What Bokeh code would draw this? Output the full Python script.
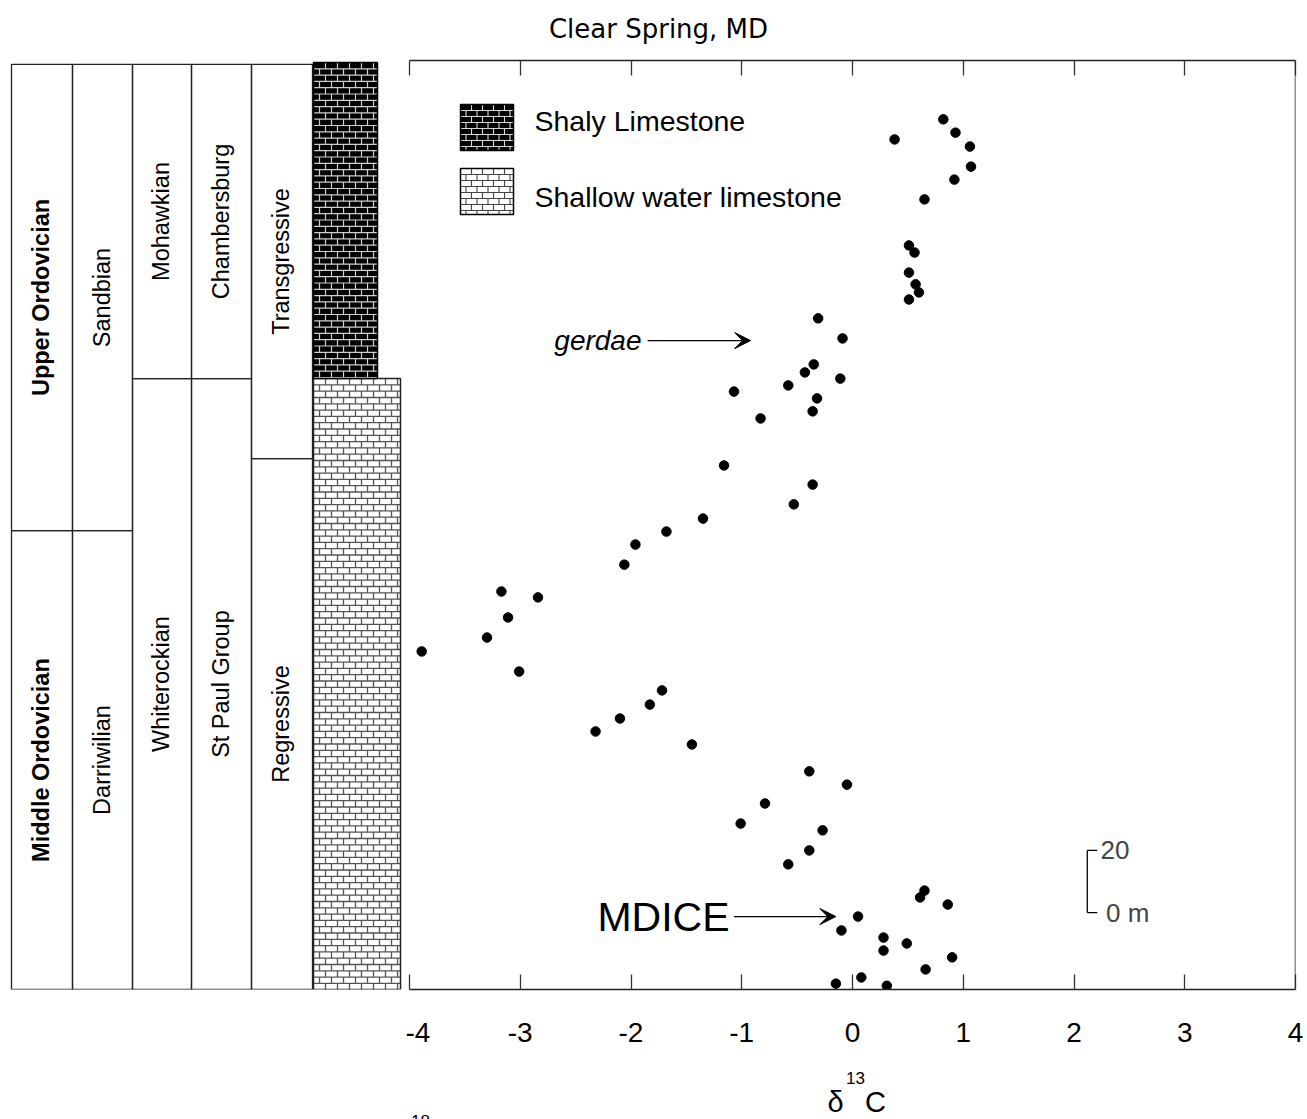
import numpy as np
from bokeh.plotting import figure
from bokeh.layouts import row, column
from bokeh.models import Range1d, FixedTicker, LinearAxis, Span, Label, Arrow, VeeHead
from bokeh.core.properties import value
from bokeh.embed import file_html
from bokeh.resources import INLINE

# ---------------- data ----------------
d13c = [0.82, 0.93, 1.06, 1.07, 0.92, 0.38, 0.65, 0.51, 0.56, 0.51, 0.57, 0.60, 0.51,
        -0.31, -0.09, -0.35, -0.43, -0.58, -0.11, -1.07, -0.32, -0.36, -0.83, -1.16,
        -0.36, -0.53, -1.35, -1.68, -1.96, -2.06, -3.17, -2.84, -3.11, -3.30, -3.89,
        -3.01, -1.72, -1.83, -2.10, -2.32, -1.45, -0.39, -0.05, -0.79, -1.01, -0.27,
        -0.39, -0.58, 0.65, 0.61, 0.86, 0.05, -0.10, 0.28, 0.28, 0.49, 0.90, 0.66,
        0.08, -0.15, 0.31]
height_m = [281.6, 277.3, 272.8, 266.3, 262.1, 275.1, 255.7, 240.8, 238.5, 232.0, 228.2,
            225.6, 223.3, 217.2, 210.7, 202.3, 199.7, 195.5, 197.7, 193.5, 191.3, 187.1,
            184.8, 169.6, 163.4, 157.0, 152.4, 148.2, 144.0, 137.5, 128.8, 126.9, 120.4,
            113.9, 109.4, 102.9, 96.8, 92.2, 87.7, 83.5, 79.3, 70.6, 66.3, 60.2, 53.7,
            51.5, 45.0, 40.5, 32.0, 29.8, 27.5, 23.6, 19.1, 16.8, 12.6, 14.9, 10.4, 6.5,
            3.9, 1.9, 1.2]

x_ticks = [-4, -3, -2, -1, 0, 1, 2, 3, 4]
x_tick_labels = {t: str(t) for t in x_ticks}

# stratigraphic table: (upper label, lower label) per column, boundary height (m)
col_upper = ["Upper Ordovician", "Sandbian", "Mohawkian", "Chambersburg", "Transgressive"]
col_lower = ["Middle Ordovician", "Darriwilian", "Whiterockian", "St Paul Group", "Regressive"]
col_break = [148.5, 148.5, 197.7, 197.7, 171.8]
section_top = 299.4

lith_names = ["Shaly Limestone", "Shallow water limestone"]
lith_break = 197.7

title_text = "Clear Spring, MD"
xlabel_parts = ["δ", "13", "C"]
cut_label = "18"
events = ["gerdae", "MDICE"]
event_height = [210.0, 23.6]

scale_bar = [24.9, 45.0]   # 0 m and 20 m marks

# ---------------- layout constants ----------------
W = 1307
PX_M = 3.09
HEAD_H, TAIL_H = 48, 60          # strips above / below the plots
TOP, BOTTOM = 12, 70             # borders of the plots
FRAME_H = 929
MAIN_H = TOP + FRAME_H + BOTTOM
y_range = Range1d(0, FRAME_H / PX_M)

col_edges = [11, 72, 132, 191, 251, 312]
lith_x0, shaly_x1, lime_x1 = 313, 377, 400
FONT_NAME = "Liberation Sans"
FONT = value(FONT_NAME)


def brick_segments(x0, x1, y0, y1, row_h, brick_w):
    xa, ya, xb, yb = [], [], [], []
    n = int(np.ceil((y1 - y0) / row_h - 1e-9))
    for i in range(n):
        top = y1 - i * row_h
        bot = max(y1 - (i + 1) * row_h, y0)
        if bot > y0 + 1e-9:
            xa.append(x0); xb.append(x1); ya.append(bot); yb.append(bot)
        off = brick_w / 2 if i % 2 else brick_w
        xv = x0 + off
        while xv < x1 - 1e-9:
            xa.append(xv); xb.append(xv); ya.append(bot); yb.append(top)
            xv += brick_w
    return xa, ya, xb, yb


def blank(width, height, xr, yr, **kw):
    f = figure(width=width, height=height, x_range=xr, y_range=yr,
               output_backend="svg", toolbar_location=None,
               x_axis_location=None, y_axis_location=None,
               outline_line_color=None, **kw)
    f.grid.visible = False
    return f


# ---------------- head strip: title ----------------
p0 = blank(W, HEAD_H, Range1d(0, W), Range1d(0, HEAD_H),
           min_border_left=0, min_border_right=0, min_border_top=0, min_border_bottom=0)
p0.text(x=[658], y=[HEAD_H - 28], text=[title_text], text_align="center",
        text_baseline="middle", text_font=value("DejaVu Sans"), text_font_size="26px",
        text_color="black")

# ---------------- left: stratigraphic column ----------------
p1 = blank(405, MAIN_H, Range1d(0, 405), y_range,
           min_border_left=0, min_border_right=0,
           min_border_top=TOP, min_border_bottom=BOTTOM)

lefts = col_edges[:-1]
rights = col_edges[1:]
p1.quad(left=lefts + lefts, right=rights + rights,
        bottom=col_break + [0] * 5, top=[section_top] * 5 + col_break,
        fill_color=None, line_color="#222222", line_width=1.3)

centers = [(a + b) / 2 - 1 for a, b in zip(lefts, rights)]
mid_up = [(b + section_top) / 2 for b in col_break]
mid_lo = [b / 2 for b in col_break]
p1.text(x=centers[:1] * 2, y=[mid_up[0], mid_lo[0]], text=[col_upper[0], col_lower[0]],
        angle=np.pi / 2, text_align="center", text_baseline="middle",
        text_font=FONT, text_font_size="23.5px", text_font_style="bold", text_color="black")
p1.text(x=centers[1:] * 2, y=mid_up[1:] + mid_lo[1:], text=col_upper[1:] + col_lower[1:],
        angle=np.pi / 2, text_align="center", text_baseline="middle",
        text_font=FONT, text_font_size="23.5px", text_color="black")

# lithology
row_h = 6.3 / PX_M
p1.quad(left=[lith_x0], right=[lime_x1], bottom=[0], top=[lith_break],
        fill_color="white", line_color=None)
xa, ya, xb, yb = brick_segments(lith_x0, lime_x1, 0, lith_break, row_h, 12)
p1.segment(x0=xa, y0=ya, x1=xb, y1=yb, line_color="#555555", line_width=1.3)
p1.quad(left=[lith_x0], right=[lime_x1], bottom=[0], top=[lith_break],
        fill_color=None, line_color="#222222", line_width=1.5)

p1.quad(left=[lith_x0], right=[shaly_x1], bottom=[lith_break], top=[300.0],
        fill_color="black", line_color=None)
xa, ya, xb, yb = brick_segments(lith_x0, shaly_x1, lith_break, 300.0, row_h, 12)
p1.segment(x0=xa, y0=ya, x1=xb, y1=yb, line_color="#cfcfcf", line_width=1.2)
p1.quad(left=[lith_x0], right=[shaly_x1], bottom=[lith_break], top=[300.0],
        fill_color=None, line_color="black", line_width=1.5)

# ---------------- right: d13C plot ----------------
p2 = figure(width=W - 405, height=MAIN_H, x_range=Range1d(-4, 4), y_range=y_range,
            output_backend="svg", toolbar_location=None,
            x_axis_location="below", y_axis_location=None,
            min_border_left=4, min_border_right=12,
            min_border_top=TOP, min_border_bottom=BOTTOM,
            outline_line_color=None)
p2.grid.visible = False

ax = p2.xaxis[0]
ax.ticker = FixedTicker(ticks=x_ticks)
ax.major_label_overrides = x_tick_labels
ax.major_tick_in = 15
ax.major_tick_out = 0
ax.minor_tick_line_color = None
ax.axis_line_width = 1.5
ax.axis_line_color = "#222222"
ax.major_tick_line_width = 1.3
ax.major_tick_line_color = "#333333"
ax.major_label_standoff = 33
ax.major_label_text_font = FONT_NAME
ax.major_label_text_font_size = "28px"
ax.major_label_text_color = "black"

top_ax = LinearAxis(ticker=FixedTicker(ticks=x_ticks), major_tick_in=15, major_tick_out=0,
                    minor_tick_line_color=None, axis_line_width=1.5,
                    axis_line_color="#222222", major_tick_line_width=1.3,
                    major_tick_line_color="#333333", major_label_standoff=0,
                    major_label_text_alpha=0, major_label_text_font_size="4px")
p2.add_layout(top_ax, "above")
p2.add_layout(Span(location=4, dimension="height", line_color="#222222", line_width=1.5))

p2.scatter(x=d13c, y=height_m, size=9.5, fill_color="black", line_color="black")

# legend boxes
px_x = 1 / 110.75
lg_x0, lg_x1 = -4 + 51 * px_x, -4 + 104 * px_x
box_tops = [(989 - 104) / PX_M, (989 - 168) / PX_M]
box_h = 46 / PX_M
legend_text_y = [(989 - 120) / PX_M, (989 - 196) / PX_M]
# shaly
b0, b1 = box_tops[0] - box_h, box_tops[0]
p2.quad(left=[lg_x0], right=[lg_x1], bottom=[b0], top=[b1], fill_color="black", line_color=None)
xa, ya, xb, yb = brick_segments(lg_x0, lg_x1, b0, b1, 6.0 / PX_M, 11 * px_x)
p2.segment(x0=xa, y0=ya, x1=xb, y1=yb, line_color="#d8d8d8", line_width=1.1)
p2.quad(left=[lg_x0], right=[lg_x1], bottom=[b0], top=[b1], fill_color=None,
        line_color="black", line_width=1.5)
# shallow water
b0, b1 = box_tops[1] - box_h, box_tops[1]
p2.quad(left=[lg_x0], right=[lg_x1], bottom=[b0], top=[b1], fill_color="white", line_color=None)
xa, ya, xb, yb = brick_segments(lg_x0, lg_x1, b0, b1, 6.0 / PX_M, 11 * px_x)
p2.segment(x0=xa, y0=ya, x1=xb, y1=yb, line_color="#444444", line_width=1.1)
p2.quad(left=[lg_x0], right=[lg_x1], bottom=[b0], top=[b1], fill_color=None,
        line_color="black", line_width=1.5)

for name, ty in zip(lith_names, legend_text_y):
    p2.add_layout(Label(x=-4 + 125 * px_x, y=ty, text=name,
                        text_font=FONT_NAME, text_font_size="28.5px", text_color="black",
                        text_align="left", text_baseline="middle"))

# event arrows
ev_text_right = [-4 + 232 * px_x, -4 + 320 * px_x]
ev_arrow = [(-1.85, -0.92), (-1.07, -0.15)]
ev_style = [("italic", "28px"), ("normal", "41px")]
for name, yv, xr, (xs, xe), (sty, fs) in zip(events, event_height, ev_text_right, ev_arrow, ev_style):
    p2.add_layout(Label(x=xr, y=yv, text=name, text_font=FONT_NAME, text_font_size=fs,
                        text_font_style=sty, text_color="black",
                        text_align="right", text_baseline="middle"))
    p2.add_layout(Arrow(x_start=xs, y_start=yv, x_end=xe, y_end=yv, line_width=1.3,
                        line_color="black",
                        end=VeeHead(size=16, fill_color="black", line_color="black")))

# scale bar
sb_x = 2.12
p2.segment(x0=[sb_x, sb_x, sb_x], y0=[scale_bar[0], scale_bar[0], scale_bar[1]],
           x1=[sb_x, sb_x + 0.09, sb_x + 0.09], y1=[scale_bar[1], scale_bar[0], scale_bar[1]],
           line_color="black", line_width=1.3)
p2.add_layout(Label(x=sb_x + 0.12, y=scale_bar[1], text="20", text_font=FONT_NAME,
                    text_font_size="26px", text_align="left", text_baseline="middle"))
p2.add_layout(Label(x=sb_x + 0.17, y=scale_bar[0], text="0 m", text_font=FONT_NAME,
                    text_font_size="26px", text_align="left", text_baseline="middle"))

# ---------------- tail strip: axis title (cut by the page edge) ----------------
page_top = HEAD_H + MAIN_H
p3 = blank(W, TAIL_H, Range1d(0, W), Range1d(0, TAIL_H),
           min_border_left=0, min_border_right=0, min_border_top=0, min_border_bottom=0)
tail_y = lambda py: page_top + TAIL_H - py
p3.text(x=[835, 875], y=[tail_y(1101)] * 2, text=[xlabel_parts[0], xlabel_parts[2]],
        text_align="center", text_baseline="middle", text_font=FONT,
        text_font_size="29px", text_color="black")
p3.text(x=[855], y=[tail_y(1077)], text=[xlabel_parts[1]],
        text_align="center", text_baseline="middle", text_font=FONT,
        text_font_size="17px", text_color="black")
p3.text(x=[420], y=[tail_y(1114)], text=[cut_label],
        text_align="center", text_baseline="top", text_font=FONT,
        text_font_size="17px", text_color="black")

layout = column(p0, row(p1, p2), p3)
open("out.html", "w").write(file_html(layout, INLINE))
